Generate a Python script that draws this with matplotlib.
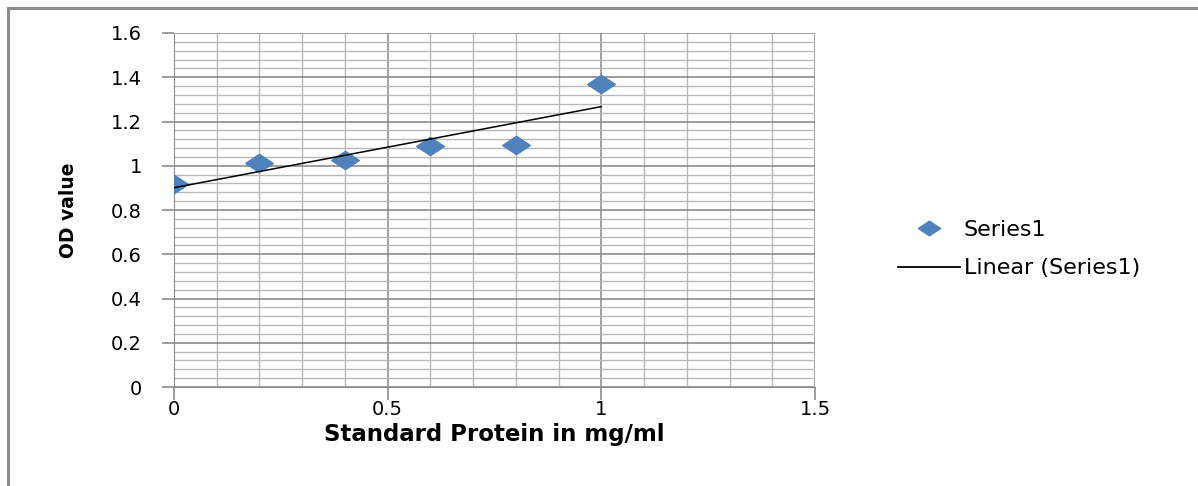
import numpy as np
import matplotlib
matplotlib.use('Agg')
import matplotlib.pyplot as plt
from matplotlib.ticker import MultipleLocator
from matplotlib.lines import Line2D

# standard curve data
conc = [0, 0.2, 0.4, 0.6, 0.8, 1.0]
od = [0.917, 1.012, 1.025, 1.088, 1.093, 1.369]
xticks = [0, 0.5, 1, 1.5]
yticks = [0, 0.2, 0.4, 0.6, 0.8, 1, 1.2, 1.4, 1.6]

plt.rcParams['font.family'] = ['DejaVu Sans']

fig = plt.figure(figsize=(11.98, 4.86), dpi=100)
ax = fig.add_axes([174/1198, 1-387/486, 641/1198, 354/486])

# diamond, wider than tall
diamond = [(-1, 0), (0, 0.66), (1, 0), (0, -0.66), (-1, 0)]
ax.plot(conc, od, linestyle='none', marker=diamond, markersize=20,
        color='#4F81BD', zorder=3)

# linear trendline
m, b = np.polyfit(conc, od, 1)
xs = np.array([conc[0], conc[-1]])
ax.plot(xs, m*xs + b, color='black', lw=1.1, zorder=4)

ax.set_xlim(0, 1.5)
ax.set_ylim(0, 1.6)
ax.set_xticks(xticks)
ax.set_xticklabels(['0', '0.5', '1', '1.5'])
ax.set_yticks(yticks)
ax.set_yticklabels(['0', '0.2', '0.4', '0.6', '0.8', '1', '1.2', '1.4', '1.6'])
ax.xaxis.set_minor_locator(MultipleLocator(0.1))
ax.yaxis.set_minor_locator(MultipleLocator(0.04))

ax.grid(which='major', axis='y', color='#8C8C8C', lw=1.2)
ax.grid(which='major', axis='x', color='#9A9A9A', lw=1.3)
ax.grid(which='minor', axis='both', color='#B8B8B8', lw=1.0)
ax.set_axisbelow(True)

for s in ['top', 'right']:
    ax.spines[s].set_visible(False)
ax.spines['left'].set_color('#8C8C8C')
ax.spines['bottom'].set_color('#8C8C8C')

ax.tick_params(axis='both', which='major', color='#8C8C8C', length=9,
               width=1.2, labelsize=14)
ax.tick_params(axis='both', which='minor', length=0)
ax.tick_params(axis='y', pad=14)
ax.tick_params(axis='x', pad=0)

ax.set_xlabel('Standard Protein in mg/ml', fontsize=16.5, fontweight='bold',
              labelpad=3)
ax.set_ylabel('OD value', fontsize=13.5, fontweight='bold', labelpad=24)

handles = [Line2D([], [], linestyle='none', marker=diamond, markersize=16,
                  color='#4F81BD'),
           Line2D([], [], color='black', lw=1.3)]
fig.legend(handles, ['Series1', 'Linear (Series1)'], loc='center left',
           bbox_to_anchor=(878/1198, 1-249/486), frameon=False, fontsize=16,
           handlelength=2.8, handletextpad=0.15, labelspacing=0.85)

# chart border (top and left)
fig.add_artist(Line2D([8/1198, 1], [1-8/486, 1-8/486], color='#8C8C8C', lw=2.2))
fig.add_artist(Line2D([8/1198, 8/1198], [0, 1-8/486], color='#8C8C8C', lw=2.2))

fig.savefig('out.png', dpi=100)
